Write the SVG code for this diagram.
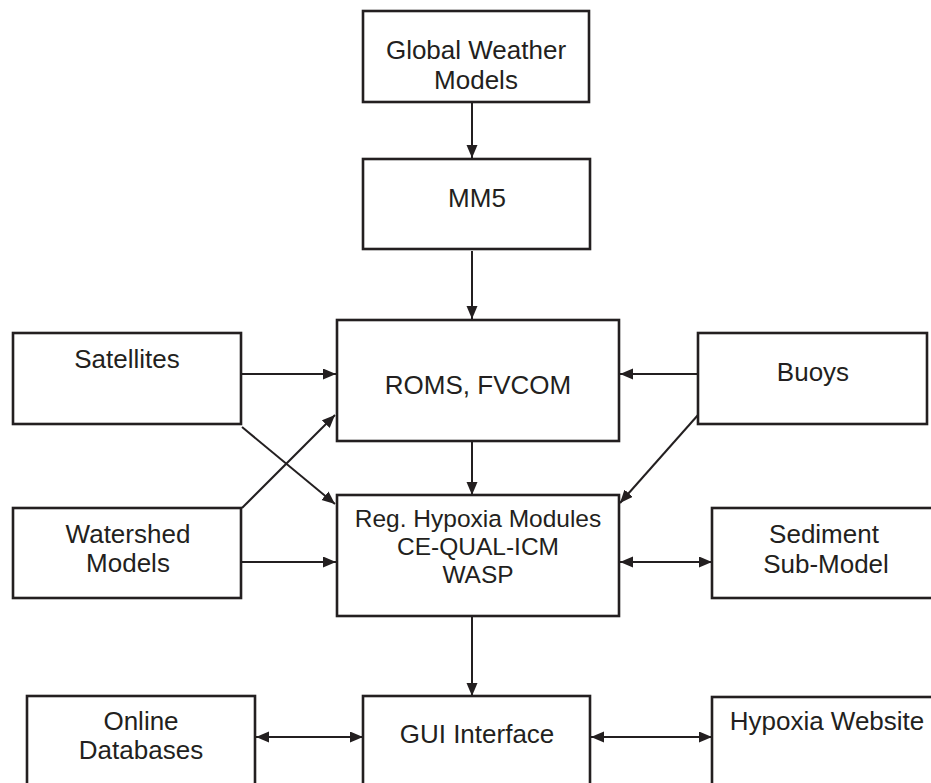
<svg xmlns="http://www.w3.org/2000/svg" width="931" height="783" viewBox="0 0 931 783">
<style>
.box{fill:#fff;stroke:#231f20;stroke-width:2.6}
.t{font-family:"Liberation Sans",Arial,sans-serif;font-size:26px;fill:#231f20;text-anchor:middle}
.s{font-size:24.5px}
.c{fill:none;stroke:#231f20;stroke-width:2}
</style>
<defs>
<marker id="ah" markerUnits="userSpaceOnUse" markerWidth="14" markerHeight="12" refX="13" refY="5.5" orient="auto-start-reverse">
<path d="M0,0 L13,5.5 L0,11 z" fill="#231f20"/>
</marker>
</defs>
<rect width="931" height="783" fill="#fff"/>
<g id="connectors">
<path class="c" d="M472,103 L472,158" marker-end="url(#ah)"/>
<path class="c" d="M472,251 L472,319" marker-end="url(#ah)"/>
<path class="c" d="M242,374 L336,374" marker-end="url(#ah)"/>
<path class="c" d="M698,374 L620,374" marker-end="url(#ah)"/>
<path class="c" d="M242,427 L335,504" marker-end="url(#ah)"/>
<path class="c" d="M242,508 L335,415" marker-end="url(#ah)"/>
<path class="c" d="M698,415 L620,503" marker-end="url(#ah)"/>
<path class="c" d="M472,442 L472,495" marker-end="url(#ah)"/>
<path class="c" d="M242,562 L336,562" marker-end="url(#ah)"/>
<path class="c" d="M620,562 L712,562" marker-start="url(#ah)" marker-end="url(#ah)"/>
<path class="c" d="M472,617 L472,696" marker-end="url(#ah)"/>
<path class="c" d="M256,737 L363,737" marker-start="url(#ah)" marker-end="url(#ah)"/>
<path class="c" d="M591,737 L712,737" marker-start="url(#ah)" marker-end="url(#ah)"/>
</g>
<g id="global-weather-models">
<rect class="box" x="363" y="11" width="226" height="91"/>
<text class="t" x="476" y="59">Global Weather</text>
<text class="t" x="476" y="89">Models</text>
</g>
<g id="mm5">
<rect class="box" x="363" y="159" width="227" height="90"/>
<text class="t" x="477" y="207">MM5</text>
</g>
<g id="roms-fvcom">
<rect class="box" x="337" y="320" width="282" height="121"/>
<text class="t" x="478" y="394">ROMS, FVCOM</text>
</g>
<g id="satellites">
<rect class="box" x="13" y="333" width="228" height="91"/>
<text class="t" x="127" y="368">Satellites</text>
</g>
<g id="buoys">
<rect class="box" x="698" y="333" width="229" height="91"/>
<text class="t" x="813" y="381">Buoys</text>
</g>
<g id="reg-hypoxia-modules">
<rect class="box" x="337" y="495" width="282" height="121"/>
<text class="t s" x="478" y="527">Reg. Hypoxia Modules</text>
<text class="t s" x="478" y="555">CE-QUAL-ICM</text>
<text class="t s" x="478" y="583">WASP</text>
</g>
<g id="watershed-models">
<rect class="box" x="13" y="508" width="228" height="90"/>
<text class="t" x="128" y="543">Watershed</text>
<text class="t" x="128" y="572">Models</text>
</g>
<g id="sediment-sub-model">
<rect class="box" x="712" y="508" width="240" height="90"/>
<text class="t" x="824" y="543">Sediment</text>
<text class="t" x="826" y="573">Sub-Model</text>
</g>
<g id="online-databases">
<rect class="box" x="27" y="696" width="228" height="120"/>
<text class="t" x="141" y="730">Online</text>
<text class="t" x="141" y="759">Databases</text>
</g>
<g id="gui-interface">
<rect class="box" x="363" y="696" width="227" height="120"/>
<text class="t" x="477" y="743">GUI Interface</text>
</g>
<g id="hypoxia-website">
<rect class="box" x="712" y="697" width="240" height="120"/>
<text class="t" x="827" y="730">Hypoxia Website</text>
</g>
</svg>
